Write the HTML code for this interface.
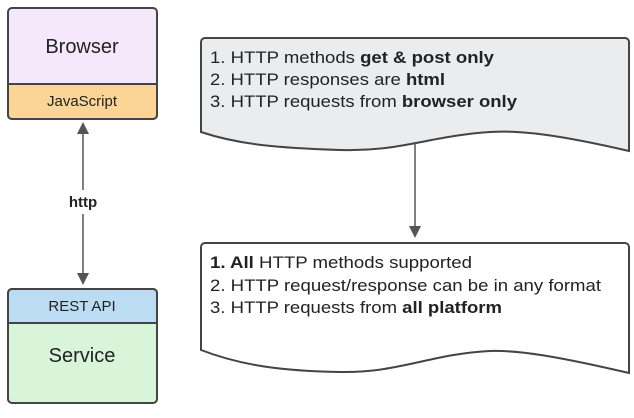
<!DOCTYPE html>
<html><head><meta charset="utf-8"><style>
body{margin:0;background:#fff;width:634px;height:413px;overflow:hidden}
svg text{font-family:"Liberation Sans",sans-serif;fill:#222}
</style></head><body>
<svg width="634" height="413" viewBox="0 0 634 413" xmlns="http://www.w3.org/2000/svg">
<defs><marker id="a" markerWidth="12" markerHeight="12" refX="6" refY="6" orient="auto-start-reverse" markerUnits="userSpaceOnUse"><path d="M0,0 L12,6 L0,12z" fill="#555"/></marker></defs>
<rect x="8" y="8" width="149" height="111" rx="4" fill="#f6e8fb" stroke="#444" stroke-width="2"/>
<path d="M8,84 H157 V115 a4,4 0 0 1 -4,4 H12 a4,4 0 0 1 -4,-4z" fill="#fbd596" stroke="#444" stroke-width="2"/>
<text x="82" y="53" font-size="20" text-anchor="middle">Browser</text>
<text x="82" y="106" font-size="15" text-anchor="middle">JavaScript</text>
<rect x="8" y="289" width="149" height="114" rx="4" fill="#d9f5d9" stroke="#444" stroke-width="2"/>
<path d="M8,323 V293 a4,4 0 0 1 4,-4 H153 a4,4 0 0 1 4,4 V323z" fill="#bcdcf4" stroke="#444" stroke-width="2"/>
<text x="82" y="311" font-size="15" text-anchor="middle">REST API</text>
<text x="82" y="362" font-size="20" text-anchor="middle">Service</text>
<line x1="83" y1="128" x2="83" y2="190" stroke="#555" stroke-width="1.5" marker-start="url(#a)"/>
<line x1="83" y1="214" x2="83" y2="279" stroke="#555" stroke-width="1.5" marker-end="url(#a)"/>
<text x="83" y="207" font-size="15" font-weight="bold" text-anchor="middle">http</text>
<path d="M201,42 a4,4 0 0 1 4,-4 H625 a4,4 0 0 1 4,4 V151 C560,135 520,130 490,132 C430,136 400,152 340,150 C280,148 240,145 201,132Z" fill="#ebecee" stroke="#444" stroke-width="2"/>
<text x="210" y="63" font-size="17" textLength="284" lengthAdjust="spacingAndGlyphs">1. HTTP methods <tspan font-weight="bold">get &amp; post only</tspan></text>
<text x="210" y="85" font-size="17" textLength="235" lengthAdjust="spacingAndGlyphs">2. HTTP responses are <tspan font-weight="bold">html</tspan></text>
<text x="210" y="107" font-size="17" textLength="307" lengthAdjust="spacingAndGlyphs">3. HTTP requests from <tspan font-weight="bold">browser only</tspan></text>
<line x1="415" y1="142" x2="415" y2="232" stroke="#555" stroke-width="1.5" marker-end="url(#a)"/>
<path d="M201,247 a4,4 0 0 1 4,-4 H625 a4,4 0 0 1 4,4 V373 C560,357 520,350 490,351 C430,354 400,373 340,372 C280,371 240,365 201,350Z" fill="#fff" stroke="#444" stroke-width="2"/>
<text x="210" y="268" font-size="17" textLength="262" lengthAdjust="spacingAndGlyphs"><tspan font-weight="bold">1. All</tspan> HTTP methods supported</text>
<text x="210" y="291" font-size="17" textLength="391" lengthAdjust="spacingAndGlyphs">2. HTTP request/response can be in any format</text>
<text x="210" y="313" font-size="17" textLength="292" lengthAdjust="spacingAndGlyphs">3. HTTP requests from <tspan font-weight="bold">all platform</tspan></text>
</svg>
</body></html>
